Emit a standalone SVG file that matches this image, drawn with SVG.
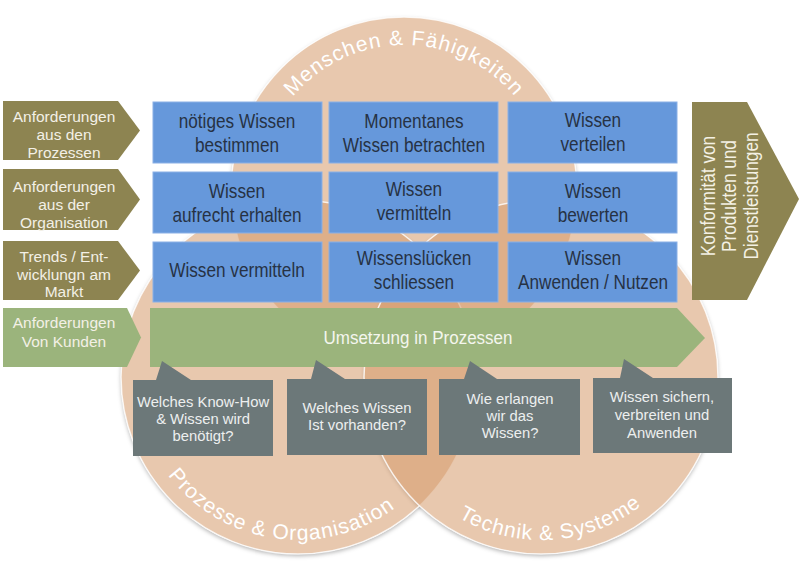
<svg xmlns="http://www.w3.org/2000/svg" width="800" height="568" viewBox="0 0 800 568">
<defs>
<filter id="sh" x="-10%" y="-10%" width="120%" height="125%">
<feDropShadow dx="0" dy="2" stdDeviation="2" flood-color="#000" flood-opacity="0.3"/>
</filter>
<path id="arcTop" d="M 259,190 A 145,145 0 0 1 549,190"/>
<path id="arcLeft" d="M 135,377 A 163,163 0 0 0 461,377"/>
<path id="arcRight" d="M 378,377 A 163,163 0 0 0 704,377"/>
</defs>
<style>
.base{fill:#fff;filter:url(#sh)}
.circ{fill:#D59A6C;fill-opacity:0.55;stroke:#fff;stroke-opacity:0.8;stroke-width:1.5}
.arc{font-family:"Liberation Sans",Arial,sans-serif;font-size:21px;fill:#fff;letter-spacing:1px}
.blue{fill:#6698DB;stroke:#8AB0E6;stroke-width:1}
.bt{font-family:"Liberation Sans",Arial,sans-serif;font-size:20px;fill:#263244;text-anchor:middle}
.olive{fill:#8D8451}
.green{fill:#9BB47C}
.lt{font-family:"Liberation Sans",Arial,sans-serif;font-size:15.5px;fill:#F3F0E6;text-anchor:middle}
.gray{fill:#6C7879}
.ct{font-family:"Liberation Sans",Arial,sans-serif;font-size:14.8px;fill:#EDEFEF;text-anchor:middle}
.wt{font-family:"Liberation Sans",Arial,sans-serif;font-size:18.5px;fill:#F4F6EE;text-anchor:middle}
.rt{font-family:"Liberation Sans",Arial,sans-serif;font-size:20px;fill:#F4F1E4;text-anchor:middle}
</style>
<rect width="800" height="568" fill="#fff"/>

<g id="circles">
<circle class="base" cx="404" cy="190" r="173"/>
<circle class="base" cx="298" cy="377" r="177"/>
<circle class="base" cx="541" cy="377" r="177"/>
<circle class="circ" cx="404" cy="190" r="173"/>
<circle class="circ" cx="298" cy="377" r="177"/>
<circle class="circ" cx="541" cy="377" r="177"/>
<text class="arc"><textPath href="#arcTop" startOffset="50%" text-anchor="middle">Menschen &amp; Fähigkeiten</textPath></text>
<text class="arc"><textPath href="#arcLeft" startOffset="233" text-anchor="middle">Prozesse &amp; Organisation</textPath></text>
<text class="arc"><textPath href="#arcRight" startOffset="267" text-anchor="middle">Technik &amp; Systeme</textPath></text>
</g>

<g id="box11"><rect class="blue" x="153" y="102" width="169" height="61"/>
<text class="bt" transform="translate(237,0) scale(0.86,1)"><tspan x="0" y="128">nötiges Wissen</tspan><tspan x="0" y="152">bestimmen</tspan></text></g>
<g id="box12"><rect class="blue" x="329" y="102" width="169" height="61"/>
<text class="bt" transform="translate(414,0) scale(0.86,1)"><tspan x="0" y="128">Momentanes</tspan><tspan x="0" y="152">Wissen betrachten</tspan></text></g>
<g id="box13"><rect class="blue" x="508" y="102" width="169" height="61"/>
<text class="bt" transform="translate(593,0) scale(0.86,1)"><tspan x="0" y="127">Wissen</tspan><tspan x="0" y="151">verteilen</tspan></text></g>

<g id="box21"><rect class="blue" x="153" y="172" width="169" height="61"/>
<text class="bt" transform="translate(237,0) scale(0.86,1)"><tspan x="0" y="198">Wissen</tspan><tspan x="0" y="222">aufrecht erhalten</tspan></text></g>
<g id="box22"><rect class="blue" x="329" y="172" width="169" height="61"/>
<text class="bt" transform="translate(414,0) scale(0.86,1)"><tspan x="0" y="196">Wissen</tspan><tspan x="0" y="220">vermitteln</tspan></text></g>
<g id="box23"><rect class="blue" x="508" y="172" width="169" height="61"/>
<text class="bt" transform="translate(593,0) scale(0.86,1)"><tspan x="0" y="198">Wissen</tspan><tspan x="0" y="222">bewerten</tspan></text></g>

<g id="box31"><rect class="blue" x="153" y="242" width="169" height="60"/>
<text class="bt" transform="translate(237,0) scale(0.86,1)"><tspan x="0" y="277">Wissen vermitteln</tspan></text></g>
<g id="box32"><rect class="blue" x="329" y="242" width="169" height="60"/>
<text class="bt" transform="translate(414,0) scale(0.86,1)"><tspan x="0" y="265">Wissenslücken</tspan><tspan x="0" y="289">schliessen</tspan></text></g>
<g id="box33"><rect class="blue" x="508" y="242" width="169" height="60"/>
<text class="bt" transform="translate(593,0) scale(0.86,1)"><tspan x="0" y="265">Wissen</tspan><tspan x="0" y="289">Anwenden / Nutzen</tspan></text></g>

<g id="label1"><polygon class="olive" points="3,101 118,101 140,130.5 118,160 3,160"/>
<text class="lt"><tspan x="64" y="122">Anforderungen</tspan><tspan x="64" y="140">aus den</tspan><tspan x="64" y="158">Prozessen</tspan></text></g>
<g id="label2"><polygon class="olive" points="3,169 118,169 140,199.5 118,230 3,230"/>
<text class="lt"><tspan x="64" y="192">Anforderungen</tspan><tspan x="64" y="210">aus der</tspan><tspan x="64" y="228">Organisation</tspan></text></g>
<g id="label3"><polygon class="olive" points="3,241 118,241 140,270.5 118,300 3,300"/>
<text class="lt"><tspan x="64" y="262">Trends / Ent-</tspan><tspan x="64" y="280">wicklungn am</tspan><tspan x="64" y="297">Markt</tspan></text></g>
<g id="label4"><polygon class="green" points="3,308 127,308 141,337.5 127,367 3,367"/>
<text class="lt"><tspan x="64" y="328">Anforderungen</tspan><tspan x="64" y="347">Von Kunden</tspan></text></g>

<g id="umsetzung"><polygon class="green" points="150,308 677,308 705,338 677,367 150,367"/>
<text class="wt" transform="translate(418,0) scale(0.92,1)"><tspan x="0" y="344">Umsetzung in Prozessen</tspan></text></g>

<g id="konformitaet"><polygon class="olive" points="692,102 747,102 799,199 747,300 692,300"/>
<text class="rt" transform="translate(0,196) rotate(-90) scale(0.86,1)"><tspan x="0" y="715">Konformität von</tspan><tspan x="0" y="736.5">Produkten und</tspan><tspan x="0" y="758">Dienstleistungen</tspan></text></g>

<g id="callout1"><path class="gray" d="M133,380 H156 L162,361 L191,380 H273 V456 H133 Z"/>
<text class="ct"><tspan x="203" y="407">Welches Know-How</tspan><tspan x="203" y="424">&amp; Wissen wird</tspan><tspan x="203" y="441">benötigt?</tspan></text></g>
<g id="callout2"><path class="gray" d="M287,379 H311 L316,360 L345,379 H427 V455 H287 Z"/>
<text class="ct"><tspan x="357" y="413">Welches Wissen</tspan><tspan x="357" y="430">Ist vorhanden?</tspan></text></g>
<g id="callout3"><path class="gray" d="M439,379 H464 L470,361 L497,379 H580 V455 H439 Z"/>
<text class="ct"><tspan x="510" y="404">Wie erlangen</tspan><tspan x="510" y="421">wir das</tspan><tspan x="510" y="438">Wissen?</tspan></text></g>
<g id="callout4"><path class="gray" d="M593,378 H620 L624,359 L653,378 H732 V453 H593 Z"/>
<text class="ct"><tspan x="662" y="402">Wissen sichern,</tspan><tspan x="662" y="420">verbreiten und</tspan><tspan x="662" y="438">Anwenden</tspan></text></g>

<g id="connectors"/>
</svg>
